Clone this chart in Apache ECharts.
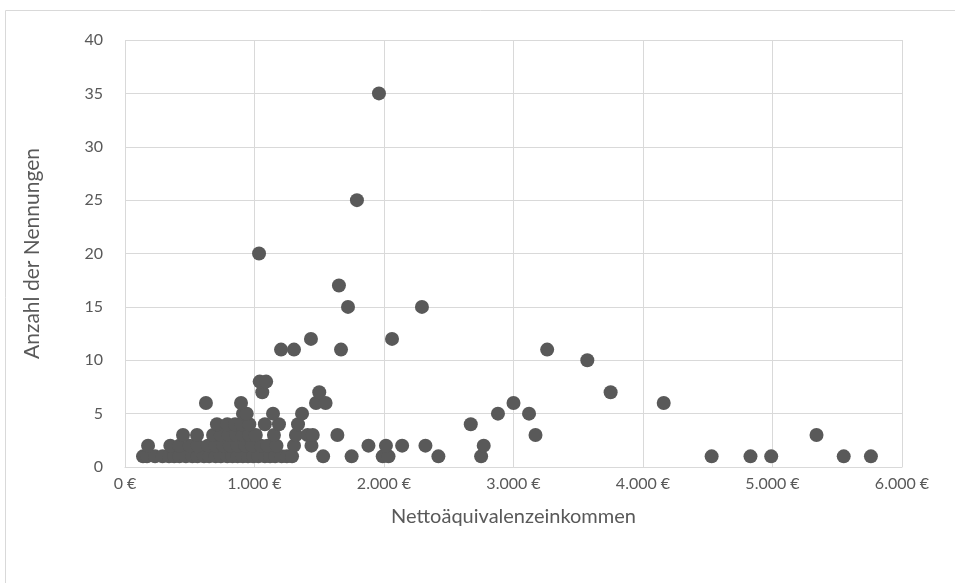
<!DOCTYPE html>
<html><head><meta charset="utf-8">
<script src="https://cdn.jsdelivr.net/npm/echarts@6/dist/echarts.min.js"></script>
<style>html,body{margin:0;padding:0;background:#fff}#c{width:955px;height:583px}</style>
</head><body><div id="c"></div>
<script>
// income (€) and number of mentions
const income = [
 139,170,232,290,340,380,420,470,520,560,610,650,700,740,790,830,870,910,950,990,1030,1080,1120,1160,1210,1250,1290,1530,1750,1990,2035,2420,2750,4530,4830,4990,5550,5760,
 178,350,420,500,560,640,700,760,810,870,930,980,1050,1100,1170,1305,1440,1880,2015,2140,2320,2770,
 448,556,680,740,800,860,910,960,1010,1150,1320,1410,1450,1640,3170,5340,
 710,790,850,900,960,1080,1189,1336,2670,
 911,940,1143,1367,2880,3120,
 625,896,1475,1549,3000,4160,
 1060,1500,3750,
 1040,1090,
 3570,
 1205,1305,1668,3260,
 1436,2062,
 1722,2293,
 1652,
 1035,
 1791,
 1961
];
const mentions = [
 1,1,1,1,1,1,1,1,1,1,1,1,1,1,1,1,1,1,1,1,1,1,1,1,1,1,1,1,1,1,1,1,1,1,1,1,1,1,
 2,2,2,2,2,2,2,2,2,2,2,2,2,2,2,2,2,2,2,2,2,2,
 3,3,3,3,3,3,3,3,3,3,3,3,3,3,3,3,
 4,4,4,4,4,4,4,4,4,
 5,5,5,5,5,5,
 6,6,6,6,6,6,
 7,7,7,
 8,8,
 10,
 11,11,11,11,
 12,12,
 15,15,
 17,
 20,
 25,
 35
];
const xTitle = 'Nettoäquivalenzeinkommen';
const yTitle = 'Anzahl der Nennungen';

const fmt = v => (v === 0 ? '0' : (v/1000).toFixed(3)) + ' €';
const chart = echarts.init(document.getElementById('c'), null, {renderer:'canvas'});
const txt = '#595959', font = 'Lato, "Open Sans", sans-serif';
chart.setOption({
  animation:false,
  graphic:[{type:'rect', shape:{x:5.5,y:10.5,width:960,height:600}, style:{fill:'none',stroke:'#d9d9d9',lineWidth:1}, z:-1}],
  grid:{left:125,right:53,top:40,bottom:116},
  xAxis:{type:'value',min:0,max:6000,interval:1000,
    name:xTitle,nameLocation:'middle',nameGap:40,
    nameTextStyle:{color:txt,fontSize:20,fontFamily:font},
    axisLine:{lineStyle:{color:'#d9d9d9'}},axisTick:{show:false},
    axisLabel:{color:txt,fontSize:16,fontFamily:font,margin:9,formatter:fmt},
    splitLine:{lineStyle:{color:'#d9d9d9',width:1}}},
  yAxis:{type:'value',min:0,max:40,interval:5,
    name:yTitle,nameLocation:'middle',nameGap:82,
    nameTextStyle:{color:txt,fontSize:21,fontFamily:font},
    axisLine:{show:false},axisTick:{show:false},
    axisLabel:{color:txt,fontSize:16,fontFamily:font,margin:22},
    splitLine:{lineStyle:{color:'#d9d9d9',width:1}}},
  series:[{type:'scatter',symbol:'circle',symbolSize:14,
    itemStyle:{color:'#595959',opacity:1},
    data: income.map((v,i)=>[v,mentions[i]])}]
});
</script></body></html>
